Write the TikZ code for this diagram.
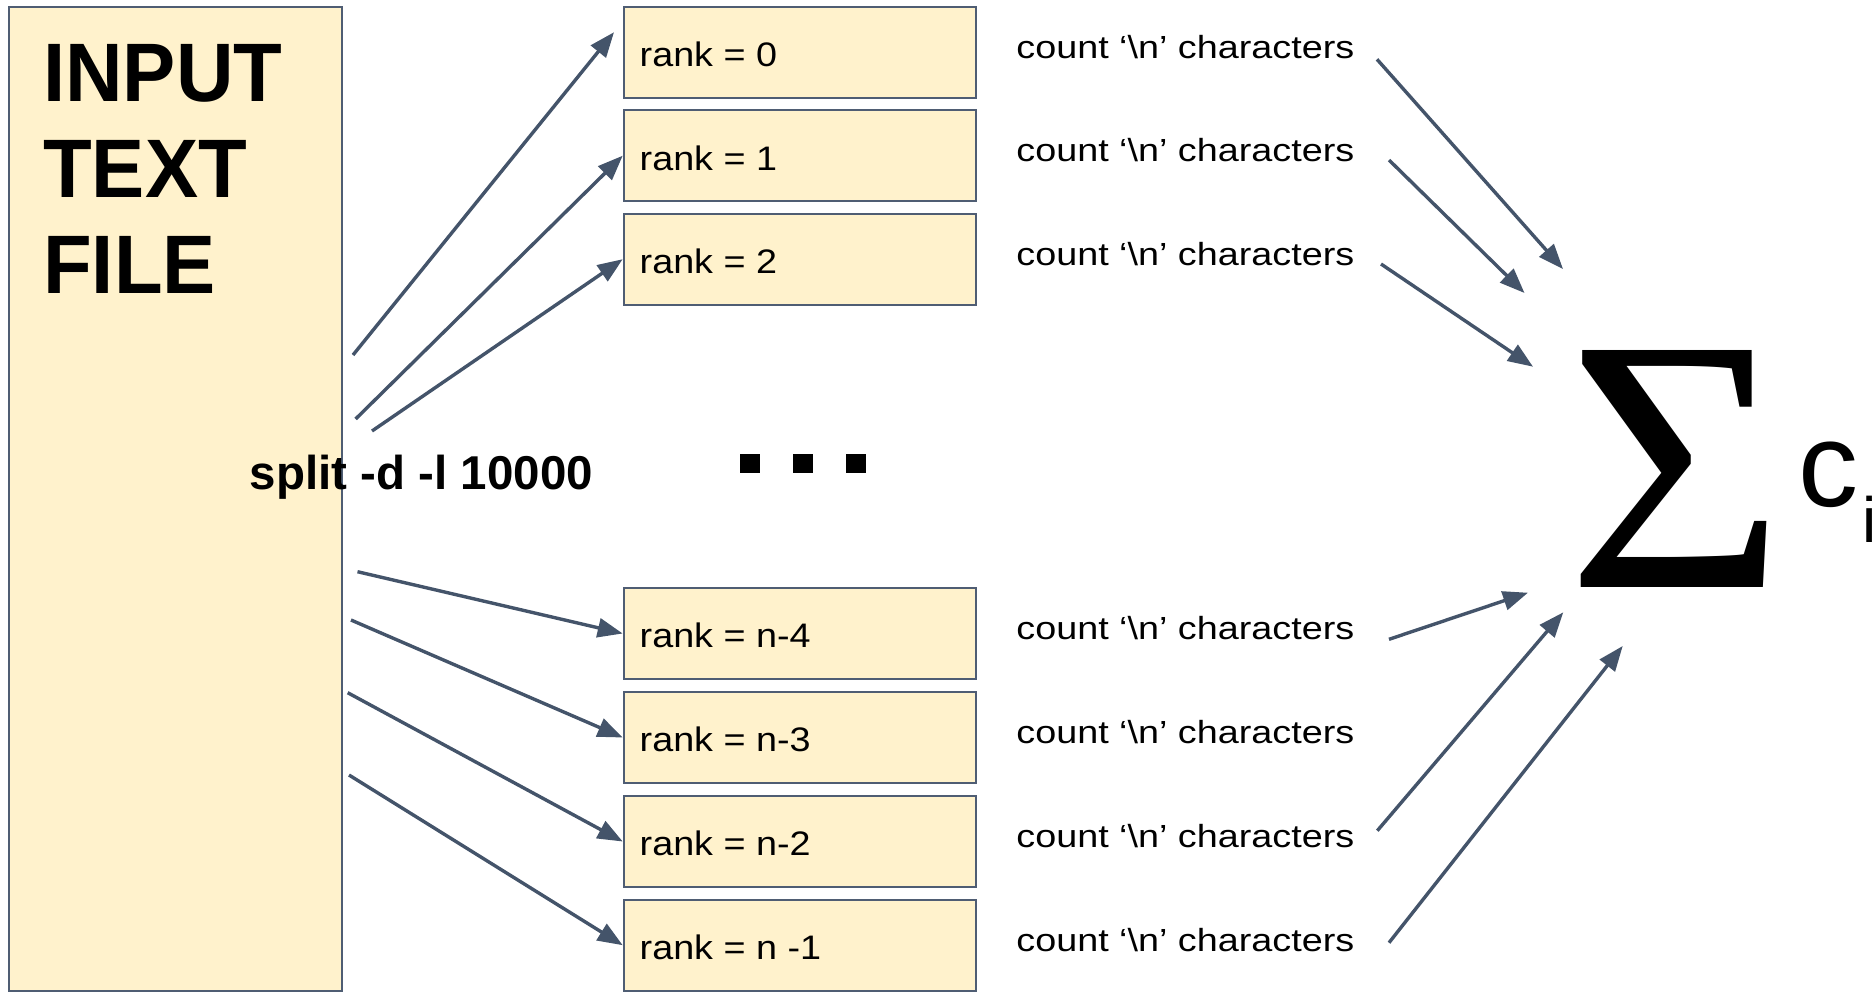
\documentclass[tikz,border=0pt]{standalone}
\usepackage{fontspec}
\setmainfont{Liberation Sans}
\newfontfamily\titlefont[FakeStretch=0.96]{Liberation Sans}
\newfontfamily\rankfont[FakeStretch=1.11]{Liberation Sans}
\newfontfamily\countfont[FakeStretch=1.18]{Liberation Sans}
\newfontfamily\sigmafont{Liberation Serif}
\usetikzlibrary{arrows.meta,calc}
\definecolor{boxfill}{HTML}{FFF2CC}
\definecolor{boxline}{HTML}{4F5D73}
\definecolor{arrowcol}{HTML}{44546A}

\begin{document}
\begin{tikzpicture}[x=1pt,y=-1pt,
  filebox/.style={draw=boxline, line width=2pt, fill=boxfill, inner sep=0pt,
    minimum width=333pt, minimum height=984pt, anchor=north west},
  rankbox/.style={draw=boxline, line width=2pt, fill=boxfill, inner sep=0pt,
    minimum width=352pt, minimum height=91pt, anchor=north west},
  ranklabel/.style={anchor=base west, inner sep=0pt,
    font=\rankfont\fontsize{34}{40}\selectfont},
  countlabel/.style={anchor=base west, inner sep=0pt,
    font=\countfont\fontsize{32}{36}\selectfont},
  titlelabel/.style={anchor=base west, inner sep=0pt,
    font=\titlefont\bfseries\fontsize{83}{96}\selectfont},
  arr/.style={draw=arrowcol, line width=3.4pt, -{Triangle[length=25pt,width=19pt]}},
  dotsq/.style={fill=black, minimum width=20pt, minimum height=19pt, inner sep=0pt}
]
\useasboundingbox (0,0) rectangle (1874,994);

% input file
\node[filebox] (file) at (8.3,5.7) {};
\node[titlelabel] (t1) at (43,101.7) {INPUT};
\node[titlelabel] (t2) at (43,197.3) {TEXT};
\node[titlelabel] (t3) at (43,293.3) {FILE};

% chunks handled by the ranks
\node[rankbox] (r0) at (622.7,5.7) {};
\node[rankbox] (r1) at (622.7,109.2) {};
\node[rankbox] (r2) at (622.7,212.7) {};
\node[rankbox] (r3) at (622.7,587.0) {};
\node[rankbox] (r4) at (622.7,691.0) {};
\node[rankbox] (r5) at (622.7,795.0) {};
\node[rankbox] (r6) at (622.7,898.7) {};

\node[ranklabel] (l0) at ($(r0.west)+(16.8,14.4)$) {rank = 0};
\node[ranklabel] (l1) at ($(r1.west)+(16.8,14.4)$) {rank = 1};
\node[ranklabel] (l2) at ($(r2.west)+(16.8,14.4)$) {rank = 2};
\node[ranklabel] (l3) at ($(r3.west)+(16.8,14.4)$) {rank = n-4};
\node[ranklabel] (l4) at ($(r4.west)+(16.8,14.4)$) {rank = n-3};
\node[ranklabel] (l5) at ($(r5.west)+(16.8,14.4)$) {rank = n-2};
\node[ranklabel] (l6) at ($(r6.west)+(16.8,14.4)$) {rank = n -1};

\foreach \i in {0,...,6}{
  \node[countlabel] (c\i) at ($(r\i.west)+(393.5,6)$) {count ‘\textbackslash n’ characters};
}

% ellipsis between the two groups
\node[dotsq] (d1) at (750,463.5) {};
\node[dotsq] (d2) at (803,463.5) {};
\node[dotsq] (d3) at (856,463.5) {};

% sum of the counts
\node[inner sep=0pt] (sum) at (1676,468.5) {\resizebox{219pt}{237pt}{\sigmafont Σ}};
\node[anchor=base west, inner sep=0pt, font=\fontsize{120}{120}\selectfont] (ci)
  at (1798,506.5) {c\kern4pt\raisebox{-36pt}{\fontsize{64}{64}\selectfont i}};

% split arrows
\coordinate (a0) at (353,355);
\coordinate (a1) at (355.6,419);
\coordinate (a2) at (372,431);
\coordinate (a3) at (357.5,571.7);
\coordinate (a4) at (351,620);
\coordinate (a5) at (347.7,692.7);
\coordinate (a6) at (349,775);
\draw[arr] (a0) -- ([shift={(-8.7,-20)}]r0.west);
\draw[arr] (a1) -- (r1.west);
\draw[arr] (a2) -- (r2.west);
\draw[arr] (a3) -- (r3.west);
\draw[arr] (a4) -- (r4.west);
\draw[arr] (a5) -- (r5.west);
\draw[arr] (a6) -- (r6.west);

% reduction arrows
\coordinate (b0) at (1377,59.3);   \coordinate (e0) at (1563,269);
\coordinate (b1) at (1389,160);    \coordinate (e1) at (1524.5,293);
\coordinate (b2) at (1381,264);    \coordinate (e2) at (1533,366.7);
\coordinate (b3) at (1389,639.3);  \coordinate (e3) at (1528,592.7);
\coordinate (b5) at (1377.3,830.7);\coordinate (e5) at (1563.3,612.3);
\coordinate (b6) at (1389,942.7);  \coordinate (e6) at (1622.7,646);
\draw[arr] (b0) -- (e0);
\draw[arr] (b1) -- (e1);
\draw[arr] (b2) -- (e2);
\draw[arr] (b3) -- (e3);
\draw[arr] (b5) -- (e5);
\draw[arr] (b6) -- (e6);

% split command
\node[anchor=base west, inner sep=0pt, font=\bfseries\fontsize{47.5}{50}\selectfont]
  (cmd) at (249.5,489) {split -d -l 10000};
\end{tikzpicture}
\end{document}
